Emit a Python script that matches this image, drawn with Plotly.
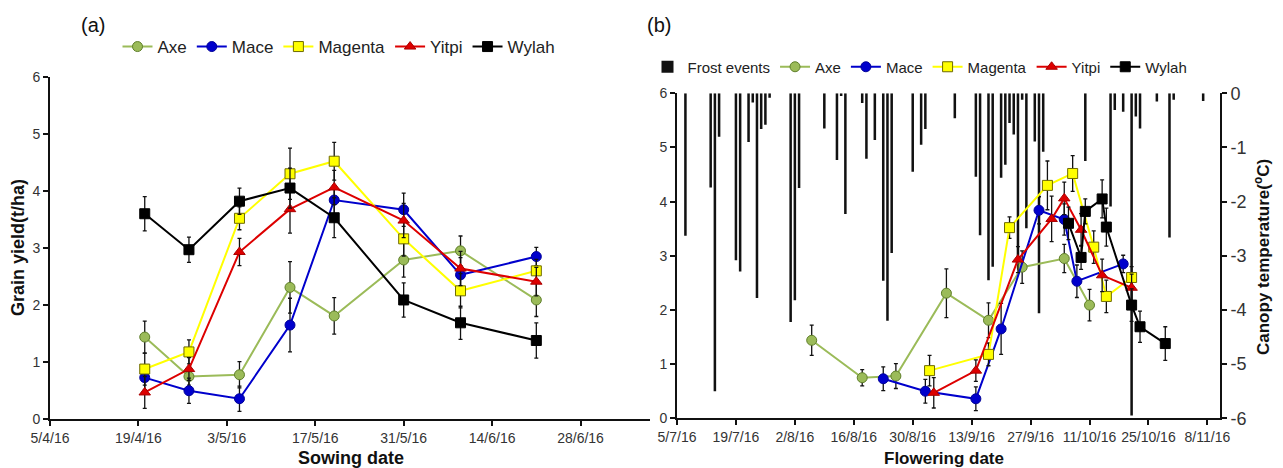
import plotly.graph_objects as go

# ---------------- data ----------------
varieties = ["Axe", "Mace", "Magenta", "Yitpi", "Wylah"]

sowing_dates = ["2016-04-20", "2016-04-27", "2016-05-05", "2016-05-13",
                "2016-05-20", "2016-05-31", "2016-06-09", "2016-06-21"]

yield_axe = [1.44, 0.75, 0.78, 2.31, 1.81, 2.79, 2.95, 2.09]
yield_mace = [0.73, 0.50, 0.36, 1.65, 3.84, 3.67, 2.53, 2.85]
yield_magenta = [0.88, 1.18, 3.52, 4.30, 4.52, 3.16, 2.25, 2.60]
yield_yitpi = [0.47, 0.88, 2.93, 3.68, 4.06, 3.48, 2.64, 2.41]
yield_wylah = [3.60, 2.97, 3.82, 4.05, 3.53, 2.09, 1.69, 1.38]

se_axe = [0.28, 0.15, 0.23, 0.45, 0.32, 0.30, 0.26, 0.29]
se_mace = [0.22, 0.22, 0.22, 0.47, 0.25, 0.29, 0.30, 0.16]
se_magenta = [0.28, 0.21, 0.20, 0.45, 0.33, 0.30, 0.30, 0.20]
se_yitpi = [0.28, 0.20, 0.24, 0.42, 0.30, 0.30, 0.30, 0.25]
se_wylah = [0.30, 0.22, 0.23, 0.35, 0.35, 0.30, 0.29, 0.31]

flower_axe = ["2016-08-06", "2016-08-18", "2016-08-26", "2016-09-07",
              "2016-09-17", "2016-09-25", "2016-10-05", "2016-10-11"]
flower_mace = ["2016-08-23", "2016-09-02", "2016-09-14", "2016-09-20",
               "2016-09-29", "2016-10-05", "2016-10-08", "2016-10-19"]
flower_magenta = ["2016-09-03", "2016-09-17", "2016-09-22", "2016-10-01",
                  "2016-10-07", "2016-10-12", "2016-10-15", "2016-10-21"]
flower_yitpi = ["2016-09-04", "2016-09-14", "2016-09-24", "2016-10-02",
                "2016-10-05", "2016-10-09", "2016-10-14", "2016-10-21"]
flower_wylah = ["2016-10-06", "2016-10-09", "2016-10-10", "2016-10-14",
                "2016-10-15", "2016-10-21", "2016-10-23", "2016-10-29"]

frost_dates = ["2016-07-07", "2016-07-13", "2016-07-14", "2016-07-15",
               "2016-07-19", "2016-07-20", "2016-07-22", "2016-07-23",
               "2016-07-24", "2016-07-25", "2016-07-26", "2016-07-27",
               "2016-08-01", "2016-08-02", "2016-08-03", "2016-08-09",
               "2016-08-12", "2016-08-13", "2016-08-14", "2016-08-18",
               "2016-08-19", "2016-08-21", "2016-08-23", "2016-08-24",
               "2016-08-25", "2016-08-30", "2016-09-01", "2016-09-02",
               "2016-09-09", "2016-09-14", "2016-09-15", "2016-09-17",
               "2016-09-18", "2016-09-20", "2016-09-21", "2016-09-22",
               "2016-09-23", "2016-09-24", "2016-09-25", "2016-09-26",
               "2016-09-28", "2016-09-29", "2016-09-30", "2016-10-10",
               "2016-10-16", "2016-10-17", "2016-10-19", "2016-10-21",
               "2016-10-22", "2016-10-23", "2016-10-27", "2016-10-30",
               "2016-10-31", "2016-11-07"]
frost_temps = [-2.63, -1.74, -5.50, -0.80,
               -3.08, -3.29, -0.90, -0.17,
               -3.78, -0.66, -0.58, -0.08,
               -4.22, -3.82, -1.75, -0.65,
               -1.23, -0.05, -2.23, -0.18,
               -1.21, -0.86, -3.46, -4.20,
               -2.95, -1.45, -0.95, -0.66,
               -0.46, -1.54, -2.62, -3.45,
               -3.20, -1.56, -1.32, -0.55,
               -0.76, -3.08, -0.12, -2.49,
               -0.89, -4.06, -1.08, -1.25,
               -2.09, -0.31, -0.34, -5.95,
               -0.43, -0.65, -0.15, -2.66,
               -0.12, -0.14]

yield_ticks = [0, 1, 2, 3, 4, 5, 6]
temp_ticks = [0, -1, -2, -3, -4, -5, -6]

# ---------------- styles ----------------
FONT = "Liberation Sans, Arial, sans-serif"
styles = {
    "Axe": dict(symbol="circle", color="#9BBB59", edge="#5F7F2A", line="#9BBB59"),
    "Mace": dict(symbol="circle", color="#0000CC", edge="#000099", line="#0000CC"),
    "Magenta": dict(symbol="square", color="#FFFF00", edge="#6E6A00", line="#FFFF00"),
    "Yitpi": dict(symbol="triangle-up", color="#DD0000", edge="#AA0000", line="#DD0000"),
    "Wylah": dict(symbol="square", color="#000000", edge="#000000", line="#000000"),
}
yields = [yield_axe, yield_mace, yield_magenta, yield_yitpi, yield_wylah]
errors = [se_axe, se_mace, se_magenta, se_yitpi, se_wylah]
flowers = [flower_axe, flower_mace, flower_magenta, flower_yitpi, flower_wylah]

W, H = 1283, 468
OFF = 8  # page offset of the plot div


def px(x):
    return (x - OFF) / W


def py(y):
    return (H - (y - OFF)) / H


fig = go.Figure()

# Panel (a)
for name, y, e in zip(varieties, yields, errors):
    s = styles[name]
    fig.add_trace(go.Scatter(
        x=sowing_dates, y=y, name=name, mode="lines+markers",
        xaxis="x", yaxis="y", legend="legend",
        line=dict(color=s["line"], width=2),
        marker=dict(symbol=s["symbol"], size=10, color=s["color"],
                    line=dict(color=s["edge"], width=1)),
        error_y=dict(type="data", array=e, visible=True, color="#111111",
                     thickness=1.3, width=2),
    ))

# Panel (b): frost events (right axis, drawn underneath)
fig.add_trace(go.Bar(
    x=frost_dates, y=frost_temps, name="Frost events",
    xaxis="x2", yaxis="y2", legend="legend2",
    width=0.6 * 86400000, marker=dict(color="#111111", line=dict(width=0)),
))

for name, x, y, e in zip(varieties, flowers, yields, errors):
    s = styles[name]
    fig.add_trace(go.Scatter(
        x=x, y=y, name=name, mode="lines+markers",
        xaxis="x2", yaxis="y3", legend="legend2",
        line=dict(color=s["line"], width=2),
        marker=dict(symbol=s["symbol"], size=10, color=s["color"],
                    line=dict(color=s["edge"], width=1)),
        error_y=dict(type="data", array=e, visible=True, color="#111111",
                     thickness=1.3, width=2),
    ))

axis_common = dict(showline=True, linecolor="#111111", linewidth=2,
                   ticks="outside", ticklen=5, tickwidth=1.5, tickcolor="#111111",
                   showgrid=False, zeroline=False, automargin=False,
                   tickfont=dict(family=FONT, size=14, color="#333333"))


def label(text, x, y, size, angle=0):
    return dict(text=text, x=px(x), y=py(y), xref="paper", yref="paper",
                xanchor="center", yanchor="middle", showarrow=False,
                textangle=angle, font=dict(family=FONT, size=size, color="#111111"))


fig.update_layout(
    template="none",
    width=W, height=H,
    margin=dict(l=0, r=0, t=0, b=0, pad=0),
    paper_bgcolor="white", plot_bgcolor="white",
    font=dict(family=FONT, color="#111111"),
    showlegend=True,
    xaxis=dict(domain=[px(50), px(650)], anchor="y", type="date",
               range=["2016-04-05", "2016-07-09"],
               tick0="2016-04-05", dtick=14 * 86400000, tickformat="%-d/%-m/%y",
               **axis_common),
    yaxis=dict(domain=[py(419.3), py(76.7)], anchor="x",
               range=[0, 6], tickvals=yield_ticks, **axis_common),
    xaxis2=dict(domain=[px(677), px(1220)], anchor="y2", type="date",
                range=["2016-07-05", "2016-11-11"],
                tick0="2016-07-05", dtick=14 * 86400000, tickformat="%-d/%-m/%y",
                **axis_common),
    yaxis2=dict(domain=[py(418.3), py(93.3)], anchor="x2", side="right",
                range=[-6, 0], tickvals=temp_ticks, ticktext=[str(v) for v in temp_ticks],
                **{**axis_common, "tickfont": dict(family=FONT, size=18, color="#333333")}),
    yaxis3=dict(domain=[py(418.3), py(93.3)], anchor="x2", side="left",
                overlaying="y2", range=[0, 6], tickvals=yield_ticks, **axis_common),
    legend=dict(orientation="h", x=px(339), y=py(47), xanchor="center",
                yanchor="middle", font=dict(family=FONT, size=17, color="#222222"),
                bgcolor="rgba(0,0,0,0)", itemwidth=30, traceorder="normal"),
    legend2=dict(orientation="h", x=px(920), y=py(67), xanchor="center",
                 yanchor="middle", font=dict(family=FONT, size=15, color="#222222"),
                 bgcolor="rgba(0,0,0,0)", itemwidth=30, traceorder="normal"),
    annotations=[
        label("(a)", 93, 25, 20),
        label("(b)", 659, 25, 20),
        label("<b>Grain yield(t/ha)</b>", 18, 248, 18, -90),
        label("<b>Sowing date</b>", 351, 458, 18),
        label("<b>Flowering date</b>", 944, 458, 17),
        label("<b>Canopy temperature(<sup>o</sup>C)</b>", 1262, 257, 17, -90),
    ],
)

fig.write_html("out.html")
